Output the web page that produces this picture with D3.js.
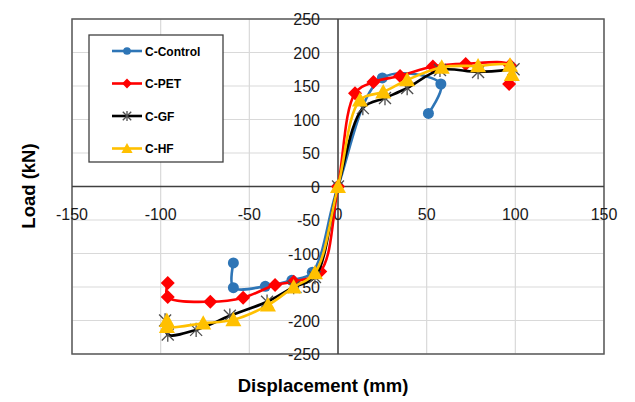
<!DOCTYPE html>
<html>
<head>
<meta charset="utf-8">
<script src="https://cdn.jsdelivr.net/npm/d3@7"></script>
<style>
  body { margin: 0; background: #fff; }
  text { font-family: "Liberation Sans", Arial, sans-serif; }
</style>
</head>
<body>
<script>
// chart data
var seriesNames = ["C-Control", "C-PET", "C-GF", "C-HF"];

var controlX = [-59, -59, -41, -26, -14.5, 0, 25, 58, 51];
var controlY = [-114, -151, -149, -140, -128, 0, 162, 153, 109];

var petX = [-96, -96, -72, -53.5, -35.5, -25, -10, 0, 9.6, 20, 35, 53.5, 72, 97, 96.5];
var petY = [-144, -165, -172, -166, -147, -142, -127, 0, 139, 156, 165, 179, 183, 181, 153];

var gfX = [-97.5, -96, -80, -61, -40, -25, -13, 0, 14, 26.5, 39, 57.5, 79, 99];
var gfY = [-200, -221, -214, -193, -172, -150, -135, 0, 117, 132, 147, 174, 171, 175];

var hfX = [-96.5, -96.5, -76, -59, -39.5, -25, -13, 0, 12.4, 25.5, 39, 58.5, 79, 97, 98];
var hfY = [-200, -209, -204, -199, -177, -150, -129, 0, 129, 141, 159, 178, 180, 181, 167];

var xTicks = [-150, -100, -50, 0, 50, 100, 150];
var yTicks = [-250, -200, -150, -100, -50, 0, 50, 100, 150, 200, 250];

var w = 635, h = 402;
var svg = d3.select("body").append("svg")
    .attr("width", w)
    .attr("height", h);

var x = d3.scaleLinear().domain([-150, 150]).range([72, 604]);
var y = d3.scaleLinear().domain([-250, 250]).range([354, 19]);

// gridlines
svg.append("g").selectAll("line.vg")
    .data(xTicks)
    .enter().append("line")
    .attr("x1", function(d){ return x(d); })
    .attr("x2", function(d){ return x(d); })
    .attr("y1", y(250)).attr("y2", y(-250))
    .attr("stroke", "#d9d9d9").attr("stroke-width", 1.2);
svg.append("g").selectAll("line.hg")
    .data(yTicks)
    .enter().append("line")
    .attr("y1", function(d){ return y(d); })
    .attr("y2", function(d){ return y(d); })
    .attr("x1", x(-150)).attr("x2", x(150))
    .attr("stroke", "#d9d9d9").attr("stroke-width", 1.2);

// plot border
svg.append("rect")
    .attr("x", x(-150)).attr("y", y(250))
    .attr("width", x(150) - x(-150)).attr("height", y(-250) - y(250))
    .attr("fill", "none").attr("stroke", "#595959").attr("stroke-width", 1.5);

// zero axes
svg.append("line")
    .attr("x1", x(0)).attr("x2", x(0)).attr("y1", y(250)).attr("y2", y(-250))
    .attr("stroke", "#404040").attr("stroke-width", 1.5);
svg.append("line")
    .attr("x1", x(-150)).attr("x2", x(150)).attr("y1", y(0)).attr("y2", y(0))
    .attr("stroke", "#404040").attr("stroke-width", 1.5);

// tick labels
svg.append("g").selectAll("text")
    .data(xTicks)
    .enter().append("text")
    .attr("x", function(d){ return x(d); })
    .attr("y", y(0) + 33)
    .attr("text-anchor", "middle")
    .style("font-size", "16px")
    .attr("fill", "#1a1a1a")
    .text(function(d){ return d; });
svg.append("g").selectAll("text")
    .data(yTicks)
    .enter().append("text")
    .attr("x", x(0) - 18)
    .attr("y", function(d){ return y(d) + 6; })
    .attr("text-anchor", "end")
    .style("font-size", "16px")
    .attr("fill", "#1a1a1a")
    .text(function(d){ return d; });

// axis titles
svg.append("text")
    .attr("x", 323).attr("y", 392)
    .attr("text-anchor", "middle")
    .style("font-size", "18.5px").style("font-weight", "bold")
    .text("Displacement (mm)");
svg.append("text")
    .attr("transform", "translate(35,186) rotate(-90)")
    .attr("text-anchor", "middle")
    .style("font-size", "18.5px").style("font-weight", "bold")
    .text("Load (kN)");

var series = [
    { name: seriesNames[0], xs: controlX, ys: controlY, color: "#2E75B6", marker: "circle" },
    { name: seriesNames[1], xs: petX, ys: petY, color: "#FF0000", marker: "diamond" },
    { name: seriesNames[2], xs: gfX, ys: gfY, color: "#000000", marker: "star" },
    { name: seriesNames[3], xs: hfX, ys: hfY, color: "#FFC000", marker: "triangle" }
];

var line = d3.line()
    .x(function(d){ return x(d[0]); })
    .y(function(d){ return y(d[1]); })
    .curve(d3.curveCatmullRom.alpha(0.5));

function drawMarker(g, type, color, px, py, scale) {
    var s = scale || 1;
    if (type === "circle") {
        g.append("circle").attr("cx", px).attr("cy", py).attr("r", 5.5 * s)
            .attr("fill", color);
    } else if (type === "diamond") {
        var r = 7 * s;
        g.append("path")
            .attr("d", "M" + px + "," + (py - r) + "L" + (px + r) + "," + py +
                "L" + px + "," + (py + r) + "L" + (px - r) + "," + py + "Z")
            .attr("fill", color);
    } else if (type === "triangle") {
        var t = 8 * s;
        g.append("path")
            .attr("d", "M" + px + "," + (py - t) + "L" + (px + t) + "," + (py + t * 0.8) +
                "L" + (px - t) + "," + (py + t * 0.8) + "Z")
            .attr("fill", color);
    } else if (type === "star") {
        var a = 6 * s;
        var st = "#4d4d4d";
        g.append("line").attr("x1", px - a).attr("x2", px + a).attr("y1", py - a).attr("y2", py + a)
            .attr("stroke", st).attr("stroke-width", 1.3);
        g.append("line").attr("x1", px - a).attr("x2", px + a).attr("y1", py + a).attr("y2", py - a)
            .attr("stroke", st).attr("stroke-width", 1.3);
        g.append("line").attr("x1", px).attr("x2", px).attr("y1", py - a * 1.2).attr("y2", py + a * 1.2)
            .attr("stroke", st).attr("stroke-width", 1.3);
    }
}

series.forEach(function(s){
    var pts = s.xs.map(function(v, i){ return [v, s.ys[i]]; });
    var g = svg.append("g");
    g.append("path")
        .datum(pts)
        .attr("d", line)
        .attr("fill", "none")
        .attr("stroke", s.color)
        .attr("stroke-width", 2.6);
    pts.forEach(function(p){
        drawMarker(g, s.marker, s.color, x(p[0]), y(p[1]));
    });
});

// legend
var legend = svg.append("g");
legend.append("rect")
    .attr("x", 89).attr("y", 35).attr("width", 134).attr("height", 127)
    .attr("fill", "#fff").attr("stroke", "#404040").attr("stroke-width", 1.3);
series.forEach(function(s, i){
    var ly = 51 + i * 32.5;
    legend.append("line")
        .attr("x1", 112).attr("x2", 142).attr("y1", ly).attr("y2", ly)
        .attr("stroke", s.color).attr("stroke-width", 2.6);
    drawMarker(legend, s.marker, s.color, 127, ly, 0.7);
    legend.append("text")
        .attr("x", 145).attr("y", ly + 4.5)
        .style("font-size", "12px").style("font-weight", "bold")
        .text(s.name);
});
</script>
</body>
</html>
